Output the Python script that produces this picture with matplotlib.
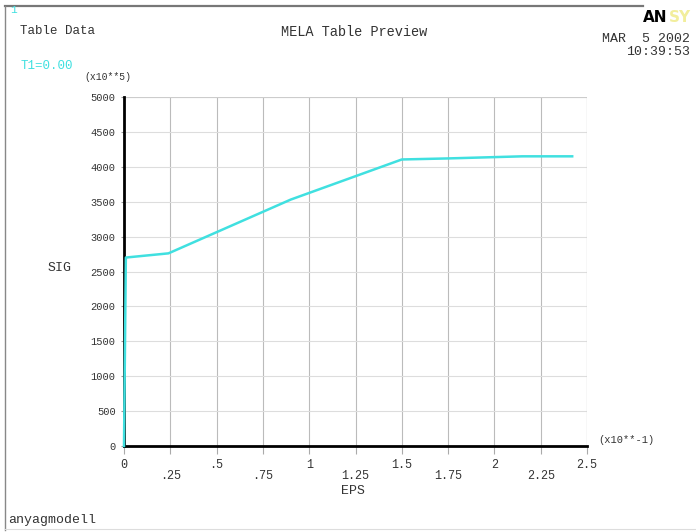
import matplotlib
matplotlib.use('Agg')
import matplotlib.pyplot as plt
from matplotlib.lines import Line2D
from matplotlib.ticker import FixedLocator, FixedFormatter

# MELA table: strain (x10**-1) vs stress (x10**5)
eps = [0.0, 0.01, 0.24, 0.9, 1.5, 1.75, 2.15, 2.42]
sig = [0, 2700, 2760, 3530, 4105, 4120, 4150, 4150]

x_major = [0, 0.5, 1, 1.5, 2, 2.5]
x_major_labels = ['0', '.5', '1', '1.5', '2', '2.5']
x_minor = [0.25, 0.75, 1.25, 1.75, 2.25]
x_minor_labels = ['.25', '.75', '1.25', '1.75', '2.25']
y_ticks = [0, 500, 1000, 1500, 2000, 2500, 3000, 3500, 4000, 4500, 5000]

mono = 'Liberation Mono'
txt = '#333333'
cyan = '#40e0e0'

fig = plt.figure(figsize=(6.96, 5.32), dpi=100)
W, H = 696, 532

def px(x, y):
    return x / W, 1 - y / H

# outer frame
fig.add_artist(Line2D([5 / W, 643 / W], [1 - 6 / H] * 2, color='#777777', lw=1.6))
fig.add_artist(Line2D([5 / W] * 2, [1 - 6 / H, 1 - 530 / H], color='#888888', lw=1.0))
fig.add_artist(Line2D([5 / W, 1], [1 - 529 / H] * 2, color='#dddddd', lw=0.8))

ax = fig.add_axes([124 / W, 1 - 446 / H, 463 / W, 349 / H])
ax.plot(eps, sig, color=cyan, lw=1.8, zorder=5, clip_on=False)

ax.set_xlim(0, 2.5)
ax.set_ylim(0, 5000)
for s in ['top', 'right']:
    ax.spines[s].set_visible(False)
for s in ['left', 'bottom']:
    ax.spines[s].set_linewidth(2.0)
    ax.spines[s].set_color('black')
    ax.spines[s].set_zorder(4)

ax.xaxis.set_major_locator(FixedLocator(x_major))
ax.xaxis.set_major_formatter(FixedFormatter(x_major_labels))
ax.xaxis.set_minor_locator(FixedLocator(x_minor))
ax.xaxis.set_minor_formatter(FixedFormatter(x_minor_labels))
ax.set_yticks(y_ticks)
ax.set_yticklabels([str(v) for v in y_ticks])

ax.tick_params(axis='x', which='major', length=6, width=0.8, color='#aaaaaa',
               pad=3, labelsize=8.5, labelcolor=txt)
ax.tick_params(axis='x', which='minor', length=6, width=0.8, color='#aaaaaa',
               pad=11, labelsize=8.5, labelcolor=txt)
ax.tick_params(axis='y', length=2, width=0.8, color='#999999',
               pad=4, labelsize=7.5, labelcolor=txt)
for lab in ax.get_xticklabels(which='both') + ax.get_yticklabels():
    lab.set_family(mono)

ax.grid(True, which='both', axis='x', color='#bbbbbb', lw=0.8)
ax.grid(True, axis='y', color='#dddddd', lw=0.8)
# closing lines at the top and right of the grid
ax.axhline(5000, color='#cccccc', lw=0.8)
ax.axvline(2.5, color='#bbbbbb', lw=0.8)

# annotations
fig.text(*px(10, 10), '1', color=cyan, fontsize=8, family=mono, va='center')
fig.text(*px(20, 31), 'Table Data', color=txt, fontsize=9, family=mono, va='center')
fig.text(*px(21, 66), 'T1=0.00', color=cyan, fontsize=9, family=mono, va='center')
fig.text(*px(84, 77), '(x10**5)', color=txt, fontsize=7, family=mono, va='center')
fig.text(*px(354, 32), 'MELA Table Preview', color=txt, fontsize=9.8, family=mono,
         ha='center', va='center')
fig.text(*px(690, 39), 'MAR  5 2002', color=txt, fontsize=9.5, family=mono,
         ha='right', va='center')
fig.text(*px(690, 52), '10:39:53', color=txt, fontsize=9.5, family=mono,
         ha='right', va='center')
fig.text(*px(48, 268), 'SIG', color=txt, fontsize=9.5, family=mono, va='center')
fig.text(*px(353, 491), 'EPS', color=txt, fontsize=9.5, family=mono,
         ha='center', va='center')
fig.text(*px(598, 440), '(x10**-1)', color=txt, fontsize=7.5, family=mono, va='center')
fig.text(*px(8, 520), 'anyagmodell', color=txt, fontsize=9.5, family=mono, va='center')

# logo, cut at the right edge
fig.text(*px(643, 17), 'AN', color='black', fontsize=11, weight='bold',
         family='DejaVu Sans', ha='left', va='center')
fig.text(*px(669, 17), 'SY', color='#f2ee9c', fontsize=11, weight='bold',
         family='DejaVu Sans', ha='left', va='center', clip_on=True)

fig.savefig('out.png', dpi=100)
